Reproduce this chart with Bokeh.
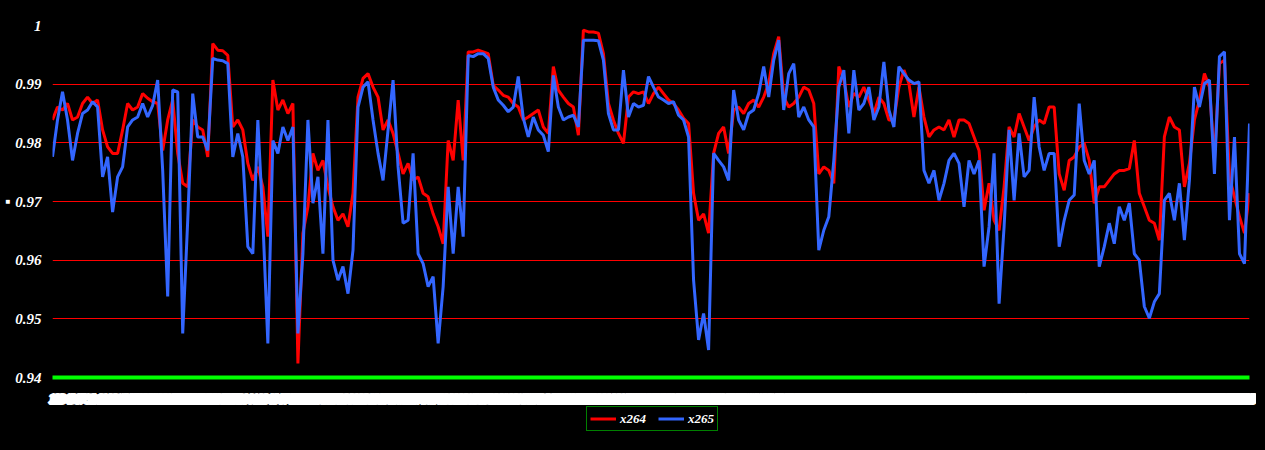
from bokeh.plotting import figure
from bokeh.models import Range1d, FixedTicker, Legend, LegendItem
from bokeh.layouts import column
from bokeh.embed import file_html
from bokeh.resources import INLINE

x264 = [
    .9839, .9861, .9856, .9867, .9839, .9844, .9867, .9878, .9867, .9873,
    .9822, .9793, .9782, .9782, .9822, .9867, .9856, .9861, .9884, .9876,
    .9870, .9867, .9787, .9839, .9873, .9782, .9731, .9725, .9839, .9827,
    .9822, .9776, .9969, .9958, .9957, .9949, .9827, .9839, .9822, .9765,
    .9736, .9759, .9725, .9640, .9907, .9856, .9873, .9850, .9867, .9424,
    .9646, .9691, .9782, .9753, .9770, .9725, .9691, .9668, .9679, .9657,
    .9714, .9878, .9910, .9918, .9895, .9878, .9822, .9839, .9816, .9782,
    .9747, .9765, .9736, .9742, .9714, .9708, .9679, .9657, .9628, .9804,
    .9770, .9873, .9770, .9955, .9955, .9958, .9955, .9952, .9898, .9890,
    .9881, .9878, .9867, .9861, .9839, .9844, .9850, .9856, .9827, .9816,
    .9930, .9890, .9878, .9867, .9861, .9813, .9992, .9989, .9989, .9987,
    .9952, .9867, .9839, .9816, .9799, .9878, .9887, .9884, .9887, .9867,
    .9884, .9895, .9884, .9873, .9867, .9856, .9842, .9833, .9714, .9668,
    .9679, .9646, .9782, .9816, .9827, .9782, .9856, .9861, .9850, .9867,
    .9873, .9861, .9878, .9901, .9952, .9981, .9878, .9861, .9867, .9878,
    .9895, .9890, .9867, .9747, .9759, .9753, .9731, .9930, .9907, .9861,
    .9884, .9878, .9895, .9873, .9850, .9878, .9867, .9839, .9839, .9895,
    .9924, .9901, .9844, .9895, .9844, .9810, .9822, .9827, .9822, .9839,
    .9810, .9839, .9839, .9833, .9810, .9787, .9685, .9731, .9668, .9651,
    .9725, .9827, .9810, .9850, .9827, .9804, .9827, .9839, .9833, .9861,
    .9861, .9747, .9719, .9770, .9776, .9793, .9799, .9770, .9697, .9725,
    .9725, .9736, .9747, .9753, .9753, .9756, .9804, .9714, .9691, .9668,
    .9663, .9634, .9810, .9844, .9827, .9822, .9725, .9765, .9839, .9873,
    .9918, .9895, .9770, .9935, .9941, .9742, .9708, .9674, .9646, .9714,
]

x265 = [
    .9776, .9839, .9887, .9839, .9770, .9816, .9850, .9856, .9870, .9861,
    .9742, .9776, .9682, .9742, .9759, .9827, .9839, .9844, .9867, .9844,
    .9864, .9907, .9753, .9538, .9890, .9887, .9475, .9668, .9884, .9810,
    .9810, .9787, .9944, .9941, .9940, .9935, .9776, .9816, .9776, .9623,
    .9611, .9839, .9668, .9458, .9804, .9782, .9827, .9804, .9827, .9475,
    .9611, .9839, .9697, .9742, .9611, .9839, .9600, .9566, .9589, .9543,
    .9617, .9861, .9895, .9904, .9839, .9782, .9736, .9822, .9907, .9759,
    .9663, .9668, .9782, .9611, .9594, .9555, .9572, .9458, .9555, .9725,
    .9611, .9725, .9640, .9949, .9947, .9952, .9952, .9944, .9895, .9873,
    .9864, .9853, .9861, .9913, .9842, .9810, .9844, .9822, .9813, .9785,
    .9915, .9861, .9839, .9844, .9847, .9827, .9975, .9975, .9975, .9974,
    .9941, .9850, .9822, .9822, .9924, .9844, .9867, .9861, .9864, .9913,
    .9895, .9878, .9873, .9867, .9870, .9847, .9839, .9810, .9566, .9464,
    .9509, .9447, .9782, .9770, .9759, .9736, .9890, .9839, .9822, .9850,
    .9856, .9884, .9930, .9878, .9941, .9975, .9856, .9918, .9935, .9844,
    .9861, .9839, .9827, .9617, .9651, .9674, .9770, .9895, .9924, .9816,
    .9924, .9856, .9867, .9895, .9839, .9861, .9938, .9856, .9827, .9930,
    .9918, .9907, .9901, .9904, .9753, .9731, .9753, .9702, .9731, .9770,
    .9782, .9765, .9691, .9770, .9747, .9770, .9589, .9657, .9782, .9526,
    .9657, .9822, .9702, .9816, .9742, .9753, .9878, .9793, .9753, .9782,
    .9782, .9623, .9668, .9702, .9711, .9867, .9770, .9747, .9770, .9589,
    .9623, .9663, .9628, .9691, .9668, .9697, .9611, .9600, .9521, .9501,
    .9529, .9543, .9702, .9714, .9668, .9731, .9634, .9736, .9895, .9861,
    .9901, .9907, .9747, .9947, .9955, .9668, .9810, .9611, .9594, .9833,
]

series_names = ["x264", "x265"]
series_colors = ["#FF0000", "#3366FF"]
idx = list(range(1, len(x264) + 1))
y_ticks = [0.94, 0.95, 0.96, 0.97, 0.98, 0.99, 1.0]
y_tick_labels = ["0.94", "0.95", "0.96", "0.97", "0.98", "0.99", "1"]
y_axis_title = "\u25a0"

FONT = "Liberation Serif"

p = figure(frame_width=1197, frame_height=352, output_backend="svg", toolbar_location=None,
           x_range=Range1d(1, len(idx)), y_range=Range1d(0.94, 1.0),
           background_fill_color="black", border_fill_color="black",
           min_border_left=45, min_border_right=7, min_border_top=25,
           min_border_bottom=27)
p.outline_line_color = None

r1 = p.line(idx, x264, line_color=series_colors[0], line_width=3)
r2 = p.line(idx, x265, line_color=series_colors[1], line_width=3)

# grids
p.xgrid.grid_line_color = None
p.ygrid.grid_line_color = "#FF0000"
p.ygrid.grid_line_width = 1
p.ygrid.ticker = FixedTicker(ticks=y_ticks)

# y axis
p.yaxis.ticker = FixedTicker(ticks=y_ticks)
p.yaxis.major_label_overrides = {t: l for t, l in zip(y_ticks, y_tick_labels)}
p.yaxis.major_label_text_color = "white"
p.yaxis.major_label_text_font = FONT
p.yaxis.major_label_text_font_style = "bold italic"
p.yaxis.major_label_text_font_size = "15px"
p.yaxis.major_label_standoff = 5
p.yaxis.axis_line_color = None
p.yaxis.major_tick_line_color = None
p.yaxis.minor_tick_line_color = None
p.yaxis.axis_label = y_axis_title
p.yaxis.axis_label_text_color = "white"
p.yaxis.axis_label_text_font_size = "8px"
p.yaxis.axis_label_standoff = 0

# x axis: one label per point, overlapping into a white band
p.xaxis.ticker = FixedTicker(ticks=idx)
p.xaxis.major_label_text_color = "white"
p.xaxis.major_label_text_font = FONT
p.xaxis.major_label_text_font_style = "bold italic"
p.xaxis.major_label_text_font_size = "13px"
p.xaxis.major_label_standoff = 11
try:
    p.xaxis.major_label_text_outline_color = "white"
except Exception:
    pass
p.xaxis.axis_line_color = "#00FF00"
p.xaxis.axis_line_width = 4
p.xaxis.major_tick_line_color = None
p.xaxis.minor_tick_line_color = None

# legend strip below the chart (series drawn out of its view, only the key shows)
lg = figure(width=1249, height=27, output_backend="svg", toolbar_location=None,
            x_range=Range1d(1, len(idx)), y_range=Range1d(0.0, 0.5),
            x_axis_type=None, y_axis_type=None, min_border=0,
            background_fill_color="black", border_fill_color="black")
lg.outline_line_color = None
k1 = lg.line(idx, x264, line_color=series_colors[0], line_width=3)
k2 = lg.line(idx, x265, line_color=series_colors[1], line_width=3)

legend = Legend(items=[LegendItem(label=series_names[0], renderers=[k1]),
                       LegendItem(label=series_names[1], renderers=[k2])],
                orientation="horizontal", location=(534, 1))
legend.background_fill_color = "black"
legend.background_fill_alpha = 1
legend.border_line_color = "#00FF00"
legend.border_line_width = 1
legend.label_text_color = "white"
legend.label_text_font = FONT
legend.label_text_font_style = "bold italic"
legend.label_text_font_size = "13px"
legend.glyph_width = 26
legend.glyph_height = 17
legend.label_standoff = 4
legend.spacing = 12
legend.padding = 3
legend.margin = 0
legend.label_height = 17
lg.add_layout(legend, "center")

layout = column(p, lg, spacing=0)
html = file_html(layout, INLINE)
html = html.replace("<head>", "<head><style>html, body { background: #000000; }</style>", 1)
open("out.html", "w").write(html)
